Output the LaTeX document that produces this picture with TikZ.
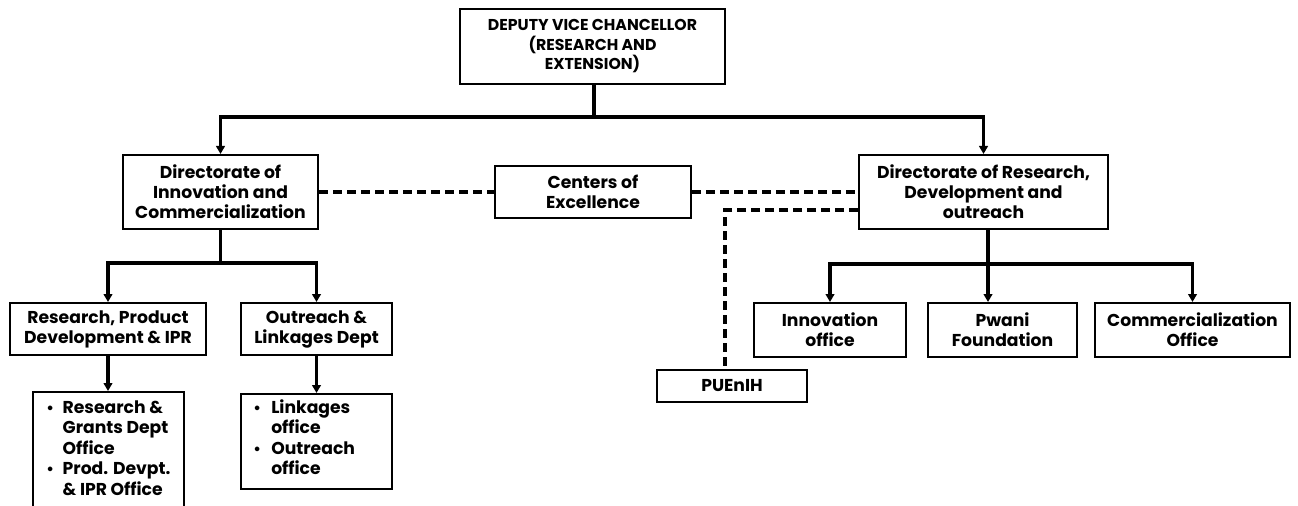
\documentclass[tikz,border=0pt]{standalone}
\usepackage{fontspec}
\setmainfont{Poppins}
\usetikzlibrary{arrows.meta}
\begin{document}
\begin{tikzpicture}[x=0.75pt,y=-0.75pt,
  box/.style={draw, line width=1.5pt, align=center, inner sep=0pt, font=\fontsize{12.9}{15}\selectfont\bfseries},
  btext/.style={inner sep=0pt, anchor=base west, font=\fontsize{12.9}{15.4}\selectfont\bfseries},
  conn/.style={line width=2.3pt},
  arr/.style={conn, -{Triangle[length=6pt,width=6.5pt]}},
  dsh/.style={line width=2.3pt, dash pattern=on 6.75pt off 3.75pt}]
\useasboundingbox (0,0) rectangle (1298,506);
\clip (0,0) rectangle (1298,506);
\fill[white] (0,0) rectangle (1298,506);

\node[box, font=\fontsize{11.8}{14.6}\selectfont\bfseries, minimum width=198.75pt, minimum height=56.25pt] (dvc) at (592.5,46.5) {DEPUTY VICE CHANCELLOR\\(RESEARCH AND\\EXTENSION)};
\node[box, minimum width=146.25pt, minimum height=55.5pt] (dic) at (220.5,192) {Directorate of\\Innovation and\\Commercialization};
\node[box, minimum width=147pt, minimum height=39pt] (coe) at (593,192) {Centers of\\Excellence};
\node[box, minimum width=186.75pt, minimum height=55.5pt] (drd) at (983.5,192) {Directorate of Research,\\Development and\\outreach};
\node[box, minimum width=147pt, minimum height=39pt] (rpd) at (108,329) {Research, Product\\Development \& IPR};
\node[box, minimum width=113.25pt, minimum height=39pt] (old) at (316.5,329) {Outreach \&\\Linkages Dept};
\node[box, minimum width=113.25pt, minimum height=96pt] (rgb) at (108.5,456) {};
\node[box, minimum width=113.25pt, minimum height=71.25pt] (lob) at (316.5,441.5) {};
\node[box, minimum width=112.5pt, minimum height=24pt] (puen) at (732,386) {PUEnIH};
\node[box, minimum width=114pt, minimum height=40.5pt] (ino) at (830,330) {Innovation\\office};
\node[box, minimum width=111.75pt, minimum height=40.5pt] (pwf) at (1002.5,330) {Pwani\\Foundation};
\node[box, minimum width=146.25pt, minimum height=40.5pt] (com) at (1192.5,330) {Commercialization\\Office};

\node[btext] (rgbt) at (46,413) {\begin{tabular}[t]{@{}p{12.3pt}@{}l@{}}
{\fontsize{11.5}{8}\selectfont •} & Research \&\\
 & Grants Dept\\
 & Office\\
{\fontsize{11.5}{8}\selectfont •} & Prod. Devpt.\\
 & \& IPR Office
\end{tabular}};
\node[btext] (lobt) at (253,413) {\begin{tabular}[t]{@{}p{13.5pt}@{}l@{}}
{\fontsize{11.5}{8}\selectfont •} & Linkages\\
 & office\\
{\fontsize{11.5}{8}\selectfont •} & Outreach\\
 & office
\end{tabular}};

% solid connectors
\coordinate (j1) at (594,117);
\draw[conn] (j1 |- dvc.south) -- (j1);
\draw[arr] (j1) -| (dic.north);
\draw[arr] (j1) -| (drd.north);

\coordinate (j2) at (220.5,263);
\draw[conn] (dic.south) -- (j2);
\draw[arr] (j2) -| (rpd.north);
\draw[arr] (j2) -| (old.north);
\draw[arr] (rpd.south) -- (rpd.south |- rgb.north);
\draw[arr] (old.south) -- (lob.north);

\coordinate (j3) at (988,264);
\draw[conn] (j3 |- drd.south) -- (j3);
\draw[arr] (j3) -- (j3 |- pwf.north);
\draw[arr] (j3) -| (ino.north);
\draw[arr] (j3) -| (com.north);

% dashed connectors
\draw[dsh] (dic.east) -- (coe.west);
\draw[dsh] (coe.east) -- (drd.west);
\coordinate (k) at (725,210);
\draw[dsh] (drd.west |- k) -- (k) -- (k |- puen.north);
\end{tikzpicture}
\end{document}
